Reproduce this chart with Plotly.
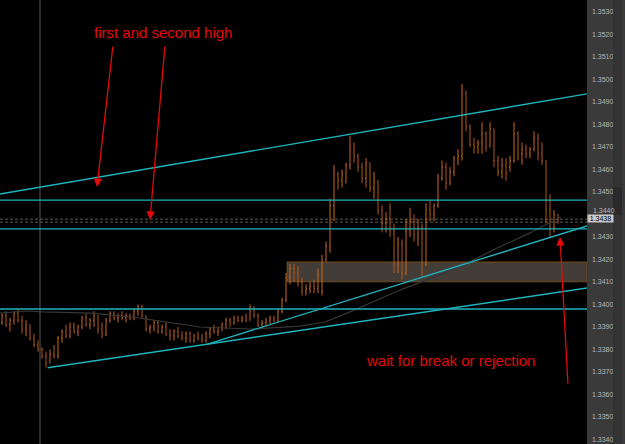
import plotly.graph_objects as go

# ---------------- data ----------------
high = [1.3396,1.3397,1.3394,1.3397,1.3398,1.3395,1.3393,1.3391,1.3387,1.3384,
        1.3381,1.3379,1.3380,1.3382,1.3386,1.3389,1.3391,1.3392,1.3392,1.3391,
        1.3395,1.3396,1.3394,1.3397,1.3395,1.3392,1.3394,1.3397,1.3397,1.3396,
        1.3397,1.3396,1.3396,1.3398,1.3400,1.3400,1.3395,1.3391,1.3393,1.3393,
        1.3391,1.3392,1.3389,1.3389,1.3390,1.3388,1.3388,1.3388,1.3387,1.3388,
        1.3387,1.3388,1.3390,1.3391,1.3390,1.3392,1.3394,1.3394,1.3395,1.3395,
        1.3395,1.3396,1.3400,1.3399,1.3396,1.3393,1.3394,1.3395,1.3395,1.3398,
        1.3403,1.3414,1.3418,1.3418,1.3417,1.3412,1.3409,1.3410,1.3411,1.3416,
        1.3422,1.3428,1.3447,1.3462,1.3459,1.3460,1.3463,1.3475,1.3472,1.3467,
        1.3463,1.3465,1.3463,1.3459,1.3455,1.3444,1.3441,1.3445,1.3436,1.3430,
        1.3429,1.3438,1.3443,1.3440,1.3438,1.3436,1.3445,1.3446,1.3445,1.3458,
        1.3464,1.3463,1.3461,1.3466,1.3469,1.3498,1.3495,1.3480,1.3474,1.3473,
        1.3481,1.3477,1.3481,1.3478,1.3466,1.3465,1.3465,1.3466,1.3481,1.3477,
        1.3472,1.3471,1.3470,1.3477,1.3476,1.3472,1.3464,1.3449,1.3442,1.3440]
low = [1.3391,1.3390,1.3388,1.3391,1.3392,1.3387,1.3386,1.3384,1.3381,1.3379,
       1.3376,1.3372,1.3374,1.3376,1.3376,1.3383,1.3385,1.3385,1.3387,1.3386,
       1.3389,1.3390,1.3389,1.3390,1.3387,1.3385,1.3386,1.3392,1.3393,1.3392,
       1.3393,1.3392,1.3393,1.3393,1.3395,1.3394,1.3388,1.3387,1.3388,1.3387,
       1.3387,1.3386,1.3384,1.3384,1.3385,1.3384,1.3383,1.3383,1.3383,1.3384,
       1.3383,1.3383,1.3385,1.3387,1.3386,1.3388,1.3389,1.3390,1.3391,1.3392,
       1.3392,1.3392,1.3393,1.3394,1.3390,1.3389,1.3390,1.3391,1.3392,1.3392,
       1.3396,1.3401,1.3409,1.3410,1.3408,1.3404,1.3404,1.3405,1.3405,1.3405,
       1.3404,1.3419,1.3423,1.3437,1.3451,1.3452,1.3454,1.3460,1.3463,1.3459,
       1.3454,1.3452,1.3450,1.3447,1.3440,1.3432,1.3432,1.3430,1.3414,1.3414,
       1.3411,1.3413,1.3430,1.3428,1.3426,1.3412,1.3417,1.3437,1.3437,1.3443,
       1.3455,1.3451,1.3453,1.3457,1.3462,1.3464,1.3477,1.3470,1.3467,1.3467,
       1.3467,1.3468,1.3470,1.3461,1.3457,1.3456,1.3455,1.3459,1.3463,1.3464,
       1.3462,1.3465,1.3465,1.3468,1.3464,1.3462,1.3436,1.3430,1.3432,1.3436]
open_ = [1.3392,1.3395,1.3391,1.3393,1.3396,1.3393,1.3389,1.3391,1.3385,1.3382,
         1.3380,1.3377,1.3374,1.3378,1.3377,1.3385,1.3388,1.3386,1.3390,1.3388,
         1.3390,1.3394,1.3391,1.3393,1.3395,1.3389,1.3387,1.3393,1.3396,1.3394,
         1.3395,1.3394,1.3395,1.3394,1.3397,1.3399,1.3395,1.3389,1.3390,1.3392,
         1.3388,1.3390,1.3387,1.3386,1.3388,1.3386,1.3385,1.3387,1.3384,1.3386,
         1.3385,1.3384,1.3387,1.3389,1.3388,1.3390,1.3391,1.3393,1.3392,1.3394,
         1.3393,1.3394,1.3393,1.3399,1.3395,1.3391,1.3392,1.3393,1.3394,1.3393,
         1.3397,1.3402,1.3412,1.3416,1.3414,1.3410,1.3406,1.3407,1.3408,1.3407,
         1.3406,1.3420,1.3426,1.3444,1.3458,1.3455,1.3454,1.3462,1.3470,1.3466,
         1.3461,1.3456,1.3463,1.3452,1.3455,1.3442,1.3436,1.3438,1.3433,1.3418,
         1.3427,1.3414,1.3433,1.3437,1.3431,1.3434,1.3418,1.3442,1.3440,1.3444,
         1.3456,1.3461,1.3454,1.3459,1.3465,1.3466,1.3494,1.3479,1.3471,1.3470,
         1.3472,1.3476,1.3470,1.3478,1.3464,1.3459,1.3462,1.3461,1.3464,1.3476,
         1.3467,1.3469,1.3467,1.3469,1.3474,1.3467,1.3464,1.3442,1.3434,1.3440]
close = [1.3395,1.3391,1.3393,1.3396,1.3393,1.3389,1.3391,1.3385,1.3382,1.3380,
         1.3377,1.3374,1.3378,1.3377,1.3385,1.3388,1.3386,1.3390,1.3388,1.3390,
         1.3394,1.3391,1.3393,1.3395,1.3389,1.3387,1.3393,1.3396,1.3394,1.3395,
         1.3394,1.3395,1.3394,1.3397,1.3399,1.3395,1.3389,1.3390,1.3392,1.3388,
         1.3390,1.3387,1.3386,1.3388,1.3386,1.3385,1.3387,1.3384,1.3386,1.3385,
         1.3384,1.3387,1.3389,1.3388,1.3390,1.3391,1.3393,1.3392,1.3394,1.3393,
         1.3394,1.3393,1.3399,1.3395,1.3391,1.3392,1.3393,1.3394,1.3393,1.3397,
         1.3402,1.3412,1.3416,1.3414,1.3410,1.3406,1.3407,1.3408,1.3407,1.3413,
         1.3420,1.3426,1.3444,1.3458,1.3455,1.3458,1.3462,1.3470,1.3466,1.3461,
         1.3456,1.3463,1.3452,1.3455,1.3442,1.3436,1.3438,1.3433,1.3418,1.3427,
         1.3414,1.3433,1.3437,1.3431,1.3434,1.3418,1.3442,1.3440,1.3444,1.3456,
         1.3461,1.3454,1.3459,1.3465,1.3466,1.3494,1.3479,1.3471,1.3470,1.3472,
         1.3476,1.3470,1.3478,1.3464,1.3459,1.3462,1.3458,1.3464,1.3476,1.3467,
         1.3469,1.3467,1.3469,1.3474,1.3467,1.3464,1.3442,1.3434,1.3440,1.3438]
bars = list(range(len(close)))

# moving-average vertices (bar index, price)
ma_idx = [-0.5, 6.25, 10.25, 22, 32.75, 41.25, 49.5, 62, 74.5, 80.75, 87, 99.5, 114.5, 122.75, 132, 139.75]
ma_val = [1.33962, 1.33971, 1.33967, 1.33962, 1.33944, 1.33922, 1.33900, 1.33891,
          1.33904, 1.33922, 1.33967, 1.34064, 1.34167, 1.34242, 1.34318, 1.34389]

# trend lines (bar index, price)
upper_channel_x = [-0.5, 146.25]
upper_channel_y = [1.34491, 1.34936]
lower_trend_x = [11.4, 146.25]
lower_trend_y = [1.33719, 1.34073]
mid_trend_x = [51.2, 146.25]
mid_trend_y = [1.33823, 1.34349]

h_levels = [1.34464, 1.34336, 1.33980]
dashed_levels = [1.34379, 1.34366]
zone = [71.3, 146.25, 1.34101, 1.34188]  # x0, x1, y0, y1
vline_bar = 9.5
last_price = 1.3438

tick_vals = [1.3340, 1.3350, 1.3360, 1.3370, 1.3380, 1.3390, 1.3400, 1.3410, 1.3420,
             1.3430, 1.3450, 1.3460, 1.3470, 1.3480, 1.3490, 1.3500, 1.3510, 1.3520, 1.3530]
crowded_tick = 1.3440

label_top = "first and second high"
label_bottom = "wait for break or rejection"

# ---------------- figure ----------------
XR = [-0.5, 146.25]
YR = [1.3338, 1.35353]
CYAN = "#1fb3bd"
ORANGE = "#c9681f"
RED = "#e20a0a"
AXFONT = dict(color="#b5b5b5", size=7, family="Liberation Sans, Arial")

fig = go.Figure()

fig.add_trace(go.Scatter(x=ma_idx, y=ma_val, mode="lines",
                         line=dict(color="#363636", width=1.2), hoverinfo="skip"))

fig.add_trace(go.Ohlc(x=bars, open=open_, high=high, low=low, close=close,
                      increasing=dict(line=dict(color=ORANGE, width=1)),
                      decreasing=dict(line=dict(color="#b35818", width=1)),
                      tickwidth=0.2, showlegend=False))

for xs, ys in [(upper_channel_x, upper_channel_y), (lower_trend_x, lower_trend_y),
               (mid_trend_x, mid_trend_y)]:
    fig.add_trace(go.Scatter(x=xs, y=ys, mode="lines",
                             line=dict(color=CYAN, width=1.4), hoverinfo="skip"))

shapes = []
shapes.append(dict(type="line", xref="x", yref="paper", x0=vline_bar, x1=vline_bar,
                   y0=0, y1=1, line=dict(color="#2c2c2c", width=2), layer="below"))
shapes.append(dict(type="rect", xref="x", yref="y", x0=zone[0], x1=zone[1],
                   y0=zone[2], y1=zone[3], fillcolor="rgba(112,102,94,0.6)",
                   line=dict(color="#6e4a22", width=1.2), layer="below"))
for lv in h_levels:
    shapes.append(dict(type="line", xref="paper", yref="y", x0=0, x1=1, y0=lv, y1=lv,
                       line=dict(color=CYAN, width=1.3)))
for lv in dashed_levels:
    shapes.append(dict(type="line", xref="paper", yref="y", x0=0, x1=1, y0=lv, y1=lv,
                       line=dict(color="#5a5a5a", width=1, dash="3px,2px"), layer="below"))
# right scroll strip
shapes.append(dict(type="rect", xref="paper", yref="paper", x0=613/587, x1=622/587,
                   y0=0, y1=1, fillcolor="#333333", line=dict(width=0)))
shapes.append(dict(type="rect", xref="paper", yref="paper", x0=613/587, x1=622/587,
                   y0=1-215/444, y1=1-187/444, fillcolor="#2a2a2a", line=dict(width=0)))

annotations = [
    dict(text=label_top, xref="paper", yref="paper", x=162.5/587, y=1-32/444,
         xanchor="center", yanchor="middle", showarrow=False,
         font=dict(color=RED, size=15, family="Liberation Sans, Arial")),
    dict(text=label_bottom, xref="paper", yref="paper", x=450.5/587, y=1-360/444,
         xanchor="center", yanchor="middle", showarrow=False,
         font=dict(color=RED, size=15, family="Liberation Sans, Arial")),
    dict(text="", x=23.75, y=1.34522, ax=16, ay=-142, showarrow=True,
         arrowcolor=RED, arrowwidth=1.3, arrowhead=2, arrowsize=1.3),
    dict(text="", x=37, y=1.34376, ax=15, ay=-175, showarrow=True,
         arrowcolor=RED, arrowwidth=1.3, arrowhead=2, arrowsize=1.3),
    dict(text="", x=139.5, y=1.3430, ax=8, ay=148, showarrow=True,
         arrowcolor=RED, arrowwidth=1.3, arrowhead=2, arrowsize=1.3),
    dict(text=f"{crowded_tick:.4f}", xref="paper", yref="y", x=591/587, y=crowded_tick,
         yshift=4, xanchor="left", yanchor="middle", showarrow=False, font=AXFONT),
    dict(text=f"{last_price:.4f}", xref="paper", yref="y", x=587/587, y=last_price,
         xanchor="left", yanchor="middle", showarrow=False, bgcolor="#c8c8c8",
         width=25, align="center",
         font=dict(color="#000000", size=7, family="Liberation Sans, Arial"),
         borderpad=0),
]

fig.update_layout(
    width=625, height=444,
    margin=dict(l=0, r=38, t=0, b=0),
    paper_bgcolor="#3a3a3a", plot_bgcolor="#000000",
    showlegend=False,
    shapes=shapes, annotations=annotations,
    xaxis=dict(range=XR, visible=False, showgrid=False, zeroline=False,
               rangeslider=dict(visible=False), fixedrange=True),
    yaxis=dict(range=YR, side="right", showgrid=False, zeroline=False,
               tickvals=tick_vals, tickformat=".4f", ticks="",
               ticklabelstandoff=4, tickfont=AXFONT),
)

fig.write_html("out.html")
